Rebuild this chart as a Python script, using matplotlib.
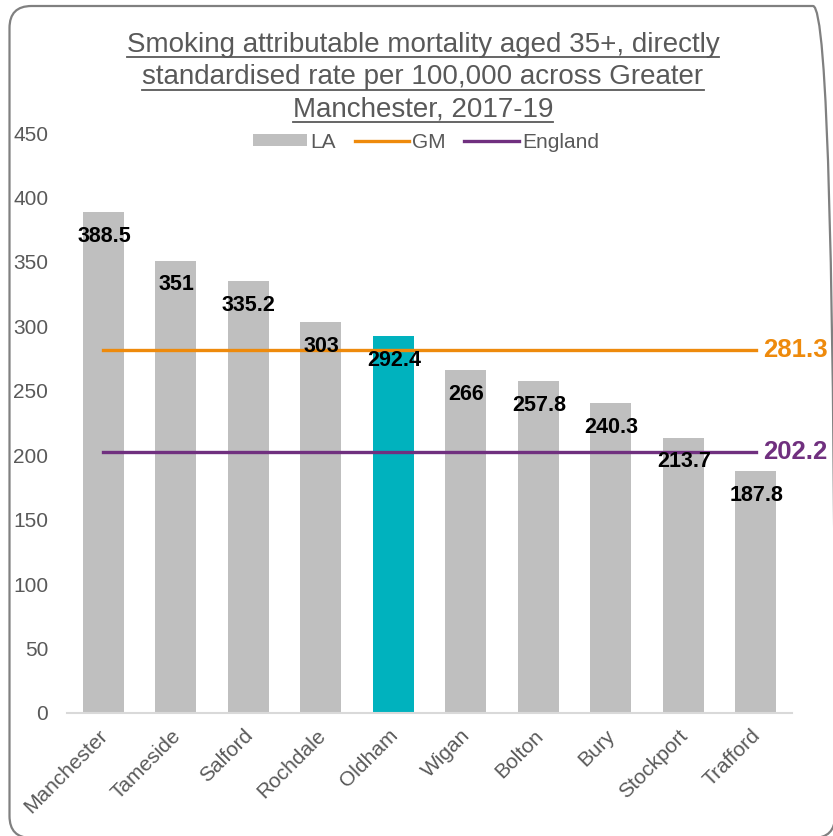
import matplotlib
matplotlib.use("Agg")
import matplotlib.pyplot as plt
from matplotlib.patches import FancyBboxPatch
from matplotlib.lines import Line2D
from matplotlib.transforms import ScaledTranslation

categories = ["Manchester", "Tameside", "Salford", "Rochdale", "Oldham",
              "Wigan", "Bolton", "Bury", "Stockport", "Trafford"]
la_values = [388.5, 351, 335.2, 303, 292.4, 266, 257.8, 240.3, 213.7, 187.8]
gm_value = 281.3
england_value = 202.2
highlight = "Oldham"
title_lines = ["Smoking attributable mortality aged 35+, directly",
               "standardised rate per 100,000 across Greater",
               "Manchester, 2017-19"]
yticks = [0, 50, 100, 150, 200, 250, 300, 350, 400, 450]

plt.rcParams['font.family'] = ['Liberation Sans', 'DejaVu Sans']

GREY = "#BFBFBF"
TEAL = "#00B2BE"
ORANGE = "#EE8A0C"
PURPLE = "#70307F"
TXT = "#595959"

W, H = 833, 836
DPI = 100
fig = plt.figure(figsize=(W / DPI, H / DPI), dpi=DPI)

# rounded border (pixel geometry converted to inches)
bx0, by_top, bx1, by_bot = 9.5, 6, 835, 838
border = FancyBboxPatch((bx0 / DPI, (H - by_bot) / DPI),
                        (bx1 - bx0) / DPI, (by_bot - by_top) / DPI,
                        boxstyle="round,pad=0,rounding_size=0.22",
                        transform=fig.dpi_scale_trans, fill=False,
                        edgecolor="#808080", linewidth=1.6, clip_on=False)
fig.patches.append(border)

ax = fig.add_axes([67 / W, 123 / H, (792 - 67) / W, (703 - 123) / H])
x = list(range(len(categories)))
colors = [TEAL if c == highlight else GREY for c in categories]
bars = ax.bar(x, la_values, width=0.57, color=colors, zorder=2, label="LA")
gm_line, = ax.plot([x[0], x[-1]], [gm_value] * 2, color=ORANGE, lw=2.4, zorder=3, label="GM")
en_line, = ax.plot([x[0], x[-1]], [england_value] * 2, color=PURPLE, lw=2.4, zorder=3, label="England")

for xi, v in zip(x, la_values):
    ax.annotate(f"{v:g}", (xi, v), xytext=(0.5, -17.5), textcoords="offset points",
                ha="center", va="center", fontsize=15.5, fontweight="bold",
                color="black", zorder=4)

ax.annotate(f"{gm_value:g}", (x[-1], gm_value), xytext=(5, 0), textcoords="offset points",
            ha="left", va="center", fontsize=18.5, fontweight="bold", color=ORANGE,
            annotation_clip=False)
ax.annotate(f"{england_value:g}", (x[-1], england_value), xytext=(5, 0), textcoords="offset points",
            ha="left", va="center", fontsize=18.5, fontweight="bold", color=PURPLE,
            annotation_clip=False)

ax.set_xlim(-0.5, len(categories) - 0.5)
ax.set_ylim(0, 450)
ax.set_yticks(yticks)
ax.set_xticks(x)
ax.set_xticklabels([])
# category labels as rotated text, anchored at their top-right corner
lab_tr = ax.get_xaxis_transform() + ScaledTranslation(-5 / DPI, -13 / DPI, fig.dpi_scale_trans)
for xi, c in zip(x, categories):
    ax.text(xi, 0, c, transform=lab_tr, rotation=45, rotation_mode="anchor",
            ha="right", va="top", fontsize=15, color=TXT, clip_on=False)
ax.tick_params(axis="y", length=0, pad=13.5, labelsize=15, labelcolor=TXT)
ax.tick_params(axis="x", length=0)
for s in ["top", "right", "left"]:
    ax.spines[s].set_visible(False)
ax.spines["bottom"].set_color("#D9D9D9")
ax.spines["bottom"].set_linewidth(1.5)

leg = fig.legend([bars, gm_line, en_line], ["LA", "GM", "England"],
                 loc="center", bbox_to_anchor=(426 / W, 1 - 142 / H), ncol=3,
                 frameon=False, fontsize=15, handlelength=2.6, handletextpad=0.15,
                 columnspacing=0.9, labelcolor=TXT, handleheight=0.55)

# title with underline
baselines = [52, 84.5, 117]
texts = []
for line, yy in zip(title_lines, baselines):
    t = fig.text(423 / W, 1 - yy / H, line, ha="center", va="baseline",
                 fontsize=20, color=TXT)
    texts.append(t)
fig.canvas.draw()
r = fig.canvas.get_renderer()
for t, yy in zip(texts, baselines):
    bb = t.get_window_extent(r)
    yline = H - (yy + 5)
    fig.add_artist(Line2D([bb.x0 / W, bb.x1 / W], [yline / H, yline / H],
                          transform=fig.transFigure, color=TXT, lw=1.3))

fig.savefig("out.png", dpi=DPI)
